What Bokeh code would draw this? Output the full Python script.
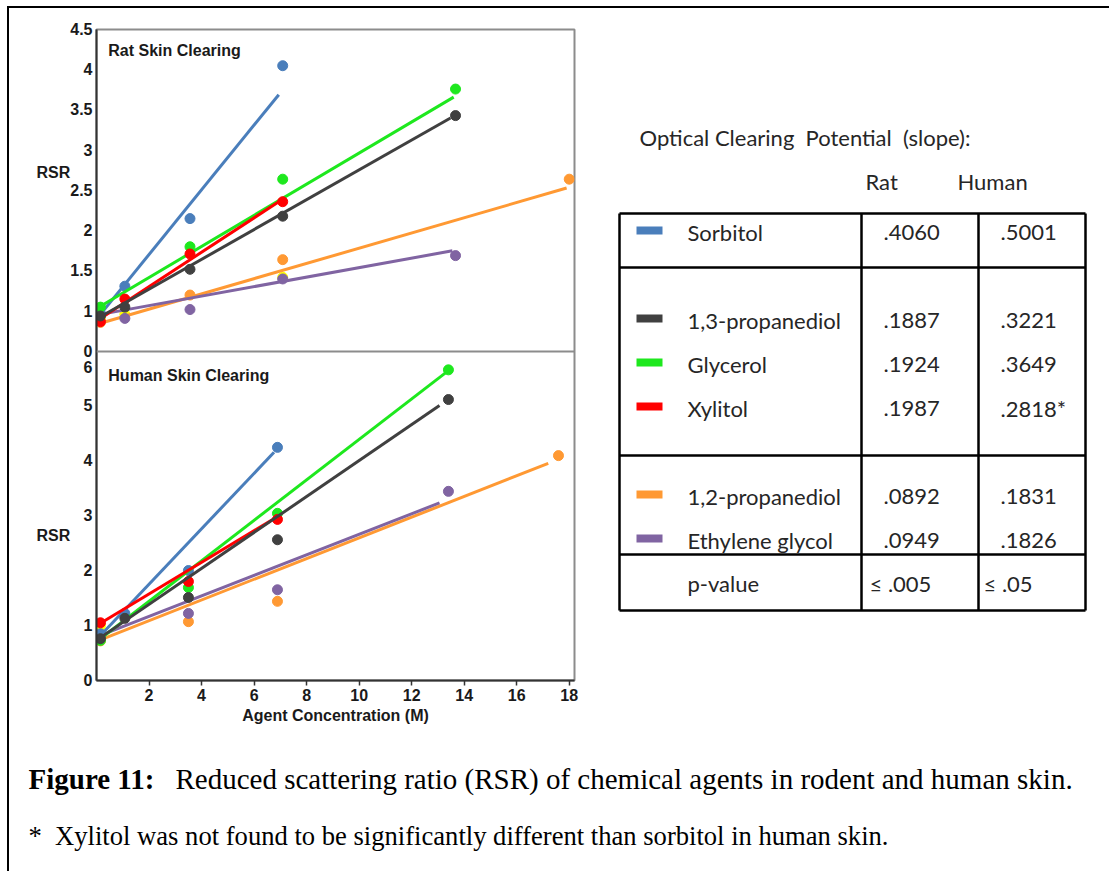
from bokeh.plotting import figure
from bokeh.models import Range1d, FixedTicker, Span, Label
from bokeh.layouts import row, column
from bokeh.embed import file_html
from bokeh.resources import INLINE
from bokeh.core.properties import value

# ---------------- data ----------------
agents = ["Sorbitol", "1,3-propanediol", "Glycerol", "Xylitol", "1,2-propanediol", "Ethylene glycol"]
agent_colors = ["#4a7ebb", "#404040", "#1ee81e", "#ff0000", "#ff9933", "#8064a2"]
extra_color = "#ffff00"

# Rat skin (points)
rat_sorb_x = [0.15, 1.08, 3.56, 7.09]
rat_sorb_y = [0.97, 1.31, 2.15, 4.05]
rat_prop13_x = [0.15, 1.08, 3.56, 7.09, 13.67]
rat_prop13_y = [0.94, 1.05, 1.52, 2.18, 3.43]
rat_glyc_x = [0.15, 3.56, 7.09, 13.67]
rat_glyc_y = [1.05, 1.80, 2.64, 3.76]
rat_xyl_x = [0.15, 1.08, 3.56, 7.09]
rat_xyl_y = [0.87, 1.15, 1.71, 2.36]
rat_prop12_x = [0.15, 3.56, 7.09, 18.0]
rat_prop12_y = [0.86, 1.20, 1.64, 2.64]
rat_eg_x = [1.08, 3.56, 7.09, 13.67]
rat_eg_y = [0.91, 1.02, 1.40, 1.69]
rat_extra_x = [0.15, 1.08, 7.09]
rat_extra_y = [0.92, 0.96, 1.42]

# Rat skin (fit lines: end points)
rat_sorb_fit_x, rat_sorb_fit_y = [0.25, 6.94], [1.00, 3.69]
rat_prop13_fit_x, rat_prop13_fit_y = [0.15, 13.48], [0.93, 3.40]
rat_glyc_fit_x, rat_glyc_fit_y = [0.15, 13.6], [1.06, 3.66]
rat_xyl_fit_x, rat_xyl_fit_y = [0.15, 6.94], [0.91, 2.36]
rat_prop12_fit_x, rat_prop12_fit_y = [0.15, 17.9], [0.85, 2.53]
rat_eg_fit_x, rat_eg_fit_y = [0.15, 13.55], [0.96, 1.75]

# Human skin (points)
hum_sorb_x = [0.15, 1.08, 3.5, 6.89]
hum_sorb_y = [0.85, 1.22, 2.00, 4.24]
hum_prop13_x = [0.15, 1.08, 3.5, 6.89, 13.4]
hum_prop13_y = [0.76, 1.13, 1.51, 2.56, 5.11]
hum_glyc_x = [0.15, 3.5, 6.89, 13.4]
hum_glyc_y = [0.73, 1.69, 3.04, 5.65]
hum_xyl_x = [0.15, 3.5, 6.89]
hum_xyl_y = [1.05, 1.80, 2.93]
hum_prop12_x = [0.15, 3.5, 6.89, 17.59]
hum_prop12_y = [0.72, 1.07, 1.44, 4.09]
hum_eg_x = [0.15, 3.5, 6.89, 13.4]
hum_eg_y = [0.80, 1.22, 1.65, 3.44]
hum_extra_x = [0.15]
hum_extra_y = [1.00]

# Human skin (fit lines: end points)
hum_sorb_fit_x, hum_sorb_fit_y = [0.15, 6.76], [0.82, 4.15]
hum_prop13_fit_x, hum_prop13_fit_y = [0.15, 13.06], [0.78, 5.00]
hum_glyc_fit_x, hum_glyc_fit_y = [0.15, 13.3], [0.76, 5.60]
hum_xyl_fit_x, hum_xyl_fit_y = [0.15, 6.82], [1.04, 2.96]
hum_prop12_fit_x, hum_prop12_fit_y = [0.15, 17.2], [0.74, 3.95]
hum_eg_fit_x, hum_eg_fit_y = [0.15, 13.06], [0.82, 3.23]

# Axes
x_ticks = [2, 4, 6, 8, 10, 12, 14, 16, 18]
rat_tick_values = [0.5, 1, 1.5, 2, 2.5, 3, 3.5, 4, 4.5]
rat_tick_labels = ["0", "1", "1.5", "2", "2.5", "3", "3.5", "4", "4.5"]
hum_tick_values = [0, 1, 2, 3, 4, 5, 5.7]
hum_tick_labels = ["0", "1", "2", "3", "4", "5", "6"]
y_title = "RSR"
rat_title_at = 2.72
hum_title_at = 2.64

# Table
rat_slopes = [".4060", ".1887", ".1924", ".1987", ".0892", ".0949"]
human_slopes = [".5001", ".3221", ".3649", ".2818*", ".1831", ".1826"]
p_label = "p-value"
p_values = ["\u2264 .005", "\u2264 .05"]

# ---------------- chart ----------------
X_END = 18.2
HUM_END = 11.84
RAT_START, RAT_END = -3.59, 4.5
BORDER_TOP, BORDER_BOTTOM = 21, 50

TICK_FONT = "Liberation Sans"

chart = figure(width=591, height=722, x_range=Range1d(0, X_END), y_range=Range1d(0, HUM_END),
               output_backend="svg", toolbar_location=None,
               min_border_left=87, min_border_right=26,
               min_border_top=BORDER_TOP, min_border_bottom=BORDER_BOTTOM)
chart.extra_y_ranges = {"rat": Range1d(RAT_START, RAT_END)}
chart.grid.visible = False
chart.outline_line_color = "#8c8c8c"
chart.outline_line_width = 2
chart.background_fill_color = "white"
chart.border_fill_color = "white"

# combined left axis (rat ticks mapped onto the human scale)
def rat_to_hum(v):
    return (v - RAT_START) / (RAT_END - RAT_START) * HUM_END

# the horizontal "RSR" titles sit in the tick-label column, shifted left with trailing spaces
title_pad = "\u00a0" * 5
ticks = list(hum_tick_values) + [rat_to_hum(v) for v in rat_tick_values] + \
        [rat_to_hum(rat_title_at), hum_title_at]
labels = list(hum_tick_labels) + list(rat_tick_labels) + [y_title + title_pad, y_title + title_pad]
yax = chart.yaxis[0]
yax.ticker = FixedTicker(ticks=ticks, minor_ticks=[])
yax.major_label_overrides = {t: l for t, l in zip(ticks, labels)}
yax.major_tick_in = 0
yax.major_tick_out = 0
yax.minor_tick_out = 0
yax.axis_line_color = "#333333"
yax.axis_line_width = 2
yax.major_label_standoff = 4
yax.major_label_text_font = TICK_FONT
yax.major_label_text_font_style = "bold"
yax.major_label_text_font_size = "16px"
yax.major_label_text_color = "#1a1a1a"

xax = chart.xaxis[0]
xax.ticker = FixedTicker(ticks=x_ticks, minor_ticks=[])
xax.major_tick_in = 0
xax.major_tick_out = 5
xax.major_tick_line_color = "#333333"
xax.major_tick_line_width = 1.5
xax.axis_line_color = "#333333"
xax.axis_line_width = 2
xax.major_label_standoff = 3
xax.major_label_text_font = TICK_FONT
xax.major_label_text_font_style = "bold"
xax.major_label_text_font_size = "16px"
xax.major_label_text_color = "#1a1a1a"
xax.axis_label = "Agent Concentration (M)"
xax.axis_label_standoff = 3
xax.axis_label_text_font = TICK_FONT
xax.axis_label_text_font_style = "bold"
xax.axis_label_text_font_size = "16px"
xax.axis_label_text_color = "#1a1a1a"

# separator between the two panels
chart.add_layout(Span(location=0.5, dimension="width", y_range_name="rat",
                      line_color="#8c8c8c", line_width=2))

rat_series = [
    (rat_prop12_x, rat_prop12_y, rat_prop12_fit_x, rat_prop12_fit_y, agent_colors[4]),
    (rat_eg_x, rat_eg_y, rat_eg_fit_x, rat_eg_fit_y, agent_colors[5]),
    (rat_sorb_x, rat_sorb_y, rat_sorb_fit_x, rat_sorb_fit_y, agent_colors[0]),
    (rat_glyc_x, rat_glyc_y, rat_glyc_fit_x, rat_glyc_fit_y, agent_colors[2]),
    (rat_xyl_x, rat_xyl_y, rat_xyl_fit_x, rat_xyl_fit_y, agent_colors[3]),
    (rat_prop13_x, rat_prop13_y, rat_prop13_fit_x, rat_prop13_fit_y, agent_colors[1]),
]
hum_series = [
    (hum_prop12_x, hum_prop12_y, hum_prop12_fit_x, hum_prop12_fit_y, agent_colors[4]),
    (hum_eg_x, hum_eg_y, hum_eg_fit_x, hum_eg_fit_y, agent_colors[5]),
    (hum_sorb_x, hum_sorb_y, hum_sorb_fit_x, hum_sorb_fit_y, agent_colors[0]),
    (hum_glyc_x, hum_glyc_y, hum_glyc_fit_x, hum_glyc_fit_y, agent_colors[2]),
    (hum_xyl_x, hum_xyl_y, hum_xyl_fit_x, hum_xyl_fit_y, agent_colors[3]),
    (hum_prop13_x, hum_prop13_y, hum_prop13_fit_x, hum_prop13_fit_y, agent_colors[1]),
]

chart.scatter(rat_extra_x, rat_extra_y, size=10, color=extra_color, y_range_name="rat")
chart.scatter(hum_extra_x, hum_extra_y, size=10, color=extra_color)
for xs, ys, fx, fy, c in rat_series:
    chart.line(fx, fy, line_color=c, line_width=3, y_range_name="rat")
    chart.scatter(xs, ys, size=10, color=c, y_range_name="rat")
for xs, ys, fx, fy, c in hum_series:
    chart.line(fx, fy, line_color=c, line_width=3)
    chart.scatter(xs, ys, size=10, color=c)

title_kw = dict(text_font=TICK_FONT, text_font_style="bold", text_font_size="16px",
                text_color="#1a1a1a", text_baseline="middle")
chart.add_layout(Label(x=0.45, y=4.24, y_range_name="rat", text="Rat Skin Clearing", **title_kw))
chart.add_layout(Label(x=0.45, y=5.55, text="Human Skin Clearing", **title_kw))

# ---------------- table (page pixel coordinates) ----------------
TFONT = "Lato"
PAGE_TOP, PAGE_BOTTOM = 8 + BORDER_TOP, 730 - BORDER_BOTTOM
tab = figure(width=509, height=722, x_range=Range1d(600, 1109), y_range=Range1d(PAGE_BOTTOM, PAGE_TOP),
             output_backend="svg", toolbar_location=None, min_border_left=0, min_border_right=0,
             min_border_top=BORDER_TOP, min_border_bottom=BORDER_BOTTOM)
tab.axis.visible = False
tab.grid.visible = False
tab.outline_line_color = None

col_edges = [619, 861, 978, 1085]
row_edges = [213, 267, 455, 554, 610]
tab.segment(x0=[col_edges[0]] * len(row_edges), x1=[col_edges[-1]] * len(row_edges),
            y0=row_edges, y1=row_edges, line_color="black", line_width=2.5)
tab.segment(x0=col_edges, x1=col_edges, y0=[row_edges[0]] * len(col_edges),
            y1=[row_edges[-1]] * len(col_edges), line_color="black", line_width=2.5)

row_y = [232, 320, 364, 408, 496, 540]
name_x = 687
rat_x = 883
hum_x = 1000
txt_kw = dict(text_font=value(TFONT), text_font_size="22px", text_color="#262626",
              text_baseline="middle")
tab.text(x=[name_x] * len(agents), y=row_y, text=agents, **txt_kw)
tab.text(x=[rat_x] * len(agents), y=row_y, text=rat_slopes, **txt_kw)
tab.text(x=[hum_x] * len(agents), y=row_y, text=human_slopes, **txt_kw)
tab.rect(x=[649] * len(agents), y=[v - 2 for v in row_y], width=26, height=8,
         fill_color=agent_colors, line_color=None)
tab.text(x=[name_x], y=[583], text=[p_label], **txt_kw)
tab.text(x=[869, 983], y=[583, 583], text=p_values, **txt_kw)
tab.text(x=[639], y=[137], text=["Optical Clearing \u00a0Potential \u00a0(slope):"], **txt_kw)
tab.text(x=[865, 957], y=[181, 181], text=["Rat", "Human"], **txt_kw)

# ---------------- caption ----------------
cap = figure(width=1100, height=141, x_range=Range1d(9, 1109), y_range=Range1d(871, 730),
             output_backend="svg", toolbar_location=None, min_border=0)
cap.axis.visible = False
cap.grid.visible = False
cap.outline_line_color = None
serif = "Liberation Serif"
cap.text(x=[28], y=[778], text=["Figure 11:"], text_font=value(serif), text_font_style="bold",
         text_font_size="29px", text_color="black", text_baseline="middle")
cap.text(x=[175], y=[778], text=["Reduced scattering ratio (RSR) of chemical agents in rodent and human skin."],
         text_font=value(serif), text_font_size="29px", text_color="black", text_baseline="middle")
cap.text(x=[28], y=[835], text=["* \u00a0Xylitol was not found to be significantly different than sorbitol in human skin."],
         text_font=value(serif), text_font_size="26.6px", text_color="black", text_baseline="middle")

layout = column(row(chart, tab), cap, margin=(6, 0, 0, 7),
                styles={"border-top": "2px solid black", "border-left": "2px solid black"})

open("out.html", "w").write(file_html(layout, INLINE))
